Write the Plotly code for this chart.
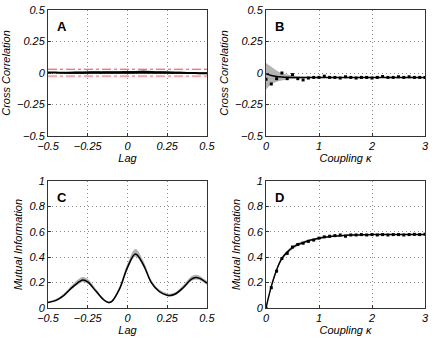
import plotly.graph_objects as go
from plotly.subplots import make_subplots

# %% Panel A - cross correlation vs lag
lag = [-0.5, -0.45, -0.4, -0.35, -0.3, -0.25, -0.2, -0.15, -0.1, -0.05, 0.0,
       0.05, 0.1, 0.15, 0.2, 0.25, 0.3, 0.35, 0.4, 0.45, 0.5]
cc_lag = [0.004, 0.003, 0.002, 0.002, 0.002, 0.003, 0.003, 0.003, 0.004, 0.004, 0.004,
          0.005, 0.006, 0.005, 0.004, 0.003, 0.002, 0.001, 0.0, -0.001, -0.002]
cc_lag_hi = [0.006, 0.006, 0.007, 0.009, 0.011, 0.012, 0.013, 0.013, 0.014, 0.014, 0.015,
             0.016, 0.019, 0.016, 0.014, 0.012, 0.010, 0.008, 0.006, 0.004, 0.003]
cc_lag_lo = [0.001, -0.001, -0.003, -0.005, -0.006, -0.006, -0.006, -0.006, -0.006, -0.006, -0.006,
             -0.006, -0.006, -0.006, -0.006, -0.006, -0.006, -0.006, -0.006, -0.006, -0.006]
sig_hi = 0.03
sig_lo = -0.026

# %% Panel B - cross correlation vs coupling
kappa = [0.0, 0.1, 0.2, 0.3, 0.4, 0.5, 0.6, 0.7, 0.8, 0.9, 1.0, 1.1, 1.2, 1.3, 1.4, 1.5,
         1.6, 1.7, 1.8, 1.9, 2.0, 2.1, 2.2, 2.3, 2.4, 2.5, 2.6, 2.7, 2.8, 2.9, 3.0]
cc_k_pts = [-0.05, -0.087, -0.045, 0.0, -0.045, -0.013, -0.045, -0.055, -0.04, -0.035, -0.035,
            -0.025, -0.035, -0.035, -0.04, -0.03, -0.035, -0.04, -0.035, -0.035, -0.04,
            -0.035, -0.028, -0.035, -0.035, -0.03, -0.035, -0.03, -0.035, -0.035, -0.035]
cc_k = [-0.005, -0.02, -0.028, -0.032, -0.034] + [-0.035] * 26
cc_k_hi = [0.08, 0.05, 0.02, 0.0, -0.012, -0.02, -0.025, -0.028, -0.03] + [-0.031] * 22
cc_k_lo = [-0.13, -0.09, -0.07, -0.06, -0.052, -0.047, -0.043, -0.041, -0.04] + [-0.039] * 22

# %% Panel C - mutual information vs lag
lag_c = [-0.5, -0.45, -0.4, -0.35, -0.3, -0.28, -0.25, -0.2, -0.15, -0.12, -0.1, -0.05,
         0.0, 0.05, 0.1, 0.15, 0.2, 0.25, 0.27, 0.3, 0.35, 0.4, 0.43, 0.45, 0.5]
mi_lag = [0.044, 0.06, 0.10, 0.16, 0.21, 0.22, 0.205, 0.135, 0.065, 0.044, 0.05, 0.15,
          0.32, 0.425, 0.34, 0.20, 0.13, 0.10, 0.099, 0.11, 0.16, 0.225, 0.24, 0.235, 0.196]
mi_lag_hi = [0.05, 0.07, 0.115, 0.18, 0.235, 0.245, 0.228, 0.152, 0.075, 0.052, 0.06, 0.17,
             0.35, 0.465, 0.37, 0.22, 0.145, 0.115, 0.113, 0.125, 0.18, 0.248, 0.262, 0.256, 0.212]
mi_lag_lo = [0.04, 0.052, 0.09, 0.148, 0.195, 0.205, 0.19, 0.125, 0.058, 0.038, 0.043, 0.138,
             0.30, 0.405, 0.322, 0.188, 0.12, 0.092, 0.09, 0.1, 0.148, 0.21, 0.224, 0.22, 0.183]

# %% Panel D - mutual information vs coupling
mi_k_pts = [0.0, 0.16, 0.29, 0.39, 0.43, 0.48, 0.50, 0.51, 0.525, 0.535, 0.55, 0.56, 0.565,
            0.57, 0.575, 0.565, 0.575, 0.575, 0.578, 0.575, 0.578, 0.575, 0.578, 0.575,
            0.578, 0.578, 0.575, 0.578, 0.58, 0.578, 0.58]
mi_k = [0.0, 0.17, 0.30, 0.39, 0.44, 0.475, 0.50, 0.515, 0.53, 0.54, 0.55, 0.557, 0.562,
        0.566, 0.569, 0.572, 0.574, 0.575, 0.576, 0.577] + [0.578] * 11
mi_k_hi = [0.005, 0.18, 0.315, 0.405, 0.455, 0.49, 0.513, 0.527, 0.54, 0.549, 0.558, 0.564,
           0.568, 0.571, 0.574, 0.576, 0.578, 0.579, 0.58, 0.581] + [0.582] * 11
mi_k_lo = [0.0, 0.16, 0.285, 0.375, 0.425, 0.46, 0.487, 0.503, 0.52, 0.531, 0.542, 0.55,
           0.556, 0.561, 0.564, 0.568, 0.57, 0.571, 0.572, 0.573] + [0.574] * 11

FONT = "Liberation Sans"

fig = make_subplots(rows=2, cols=2)


def band(x, lo, hi, color, row, col, shape="linear"):
    fig.add_trace(go.Scatter(x=x, y=hi, mode="lines", line=dict(width=0, shape=shape),
                             showlegend=False, hoverinfo="skip"), row=row, col=col)
    fig.add_trace(go.Scatter(x=x, y=lo, mode="lines", line=dict(width=0, shape=shape),
                             fill="tonexty", fillcolor=color, showlegend=False,
                             hoverinfo="skip"), row=row, col=col)


# A
fig.add_trace(go.Scatter(x=[-0.5, 0.5], y=[sig_hi, sig_hi], mode="lines",
                         line=dict(color="#e8474c", width=1, dash="dashdot"), showlegend=False), row=1, col=1)
fig.add_trace(go.Scatter(x=[-0.5, 0.5], y=[sig_lo, sig_lo], mode="lines",
                         line=dict(color="#f7a6a8", width=2, dash="dashdot"), showlegend=False), row=1, col=1)
band(lag, cc_lag_lo, cc_lag_hi, "rgba(20,20,20,0.95)", 1, 1, "spline")
fig.add_trace(go.Scatter(x=lag, y=cc_lag, mode="lines", line=dict(color="black", width=2, shape="spline"),
                         showlegend=False), row=1, col=1)

# B
band(kappa, cc_k_lo, cc_k_hi, "#b4b4b4", 1, 2, "spline")
fig.add_trace(go.Scatter(x=kappa, y=cc_k, mode="lines", line=dict(color="black", width=1.5, shape="spline"),
                         showlegend=False), row=1, col=2)
fig.add_trace(go.Scatter(x=kappa, y=cc_k_pts, mode="markers",
                         marker=dict(color="black", size=3, symbol="square"), showlegend=False), row=1, col=2)

# C
band(lag_c, mi_lag_lo, mi_lag_hi, "#b0b0b0", 2, 1, "spline")
fig.add_trace(go.Scatter(x=lag_c, y=mi_lag, mode="lines", line=dict(color="black", width=1.5, shape="spline"),
                         showlegend=False), row=2, col=1)

# D
band(kappa, mi_k_lo, mi_k_hi, "#c8c8c8", 2, 2, "spline")
fig.add_trace(go.Scatter(x=kappa, y=mi_k, mode="lines", line=dict(color="black", width=1.5, shape="spline"),
                         showlegend=False), row=2, col=2)
fig.add_trace(go.Scatter(x=kappa, y=mi_k_pts, mode="markers",
                         marker=dict(color="black", size=3, symbol="square"), showlegend=False), row=2, col=2)

W, H = 436, 339
xdom = [[48 / W, 207 / W], [266 / W, 425 / W]]
ydom = [[1 - 136 / H, 1 - 10 / H], [1 - 308 / H, 1 - 181 / H]]

tickfont = dict(family=FONT, size=11, color="black", style="italic")
titlefont = dict(family=FONT, size=11, color="black", style="italic")
common = dict(showgrid=True, gridcolor="#8a8a8a", griddash="1px,3px", gridwidth=1,
              zeroline=False, showline=True, linecolor="#333", linewidth=1, mirror=True,
              ticks="inside", ticklen=3, tickcolor="#333", tickfont=tickfont, automargin=False)

lag_ticks = [-0.5, -0.25, 0, 0.25, 0.5]
lag_text = ["\u22120.5", "\u22120.25", "0", "0.25", "0.5"]
k_ticks = [0, 1, 2, 3]
cc_ticks = [-0.5, -0.25, 0, 0.25, 0.5]
cc_text = ["\u22120.5", "\u22120.25", "0", "0.25", "0.5"]
mi_ticks = [0, 0.2, 0.4, 0.6, 0.8, 1]

for i, (r, c) in enumerate([(1, 1), (1, 2), (2, 1), (2, 2)]):
    n = "" if i == 0 else str(i + 1)
    is_lag = c == 1
    xa = dict(common, domain=xdom[c - 1],
              range=[-0.5, 0.5] if is_lag else [0, 3],
              tickvals=lag_ticks if is_lag else k_ticks,
              ticktext=lag_text if is_lag else [str(t) for t in k_ticks],
              title=dict(text="Lag" if is_lag else "Coupling \u03ba", font=titlefont, standoff=2))
    ya = dict(common, domain=ydom[r - 1],
              range=[-0.5, 0.5] if r == 1 else [0, 1],
              tickvals=cc_ticks if r == 1 else mi_ticks,
              ticktext=cc_text if r == 1 else ["0", "0.2", "0.4", "0.6", "0.8", "1"],
              title=dict(text="Cross Correlation" if r == 1 else "Mutual Information",
                         font=titlefont, standoff=4))
    fig.layout["xaxis" + n].update(xa)
    fig.layout["yaxis" + n].update(ya)

for letter, x, y in [("A", 55, 17), ("B", 273, 17), ("C", 55, 188), ("D", 273, 188)]:
    fig.add_annotation(text="<b>" + letter + "</b>", x=x / W, y=1 - y / H, xref="paper", yref="paper",
                       xanchor="left", yanchor="top", showarrow=False,
                       font=dict(family=FONT, size=13, color="black"))

fig.update_layout(width=W, height=H, margin=dict(l=0, r=0, t=0, b=0),
                  paper_bgcolor="white", plot_bgcolor="white", showlegend=False)

fig.write_html("out.html", config={"displaylogo": False, "displayModeBar": False},
               post_script="document.body.style.margin='0';document.body.style.overflow='hidden';")
